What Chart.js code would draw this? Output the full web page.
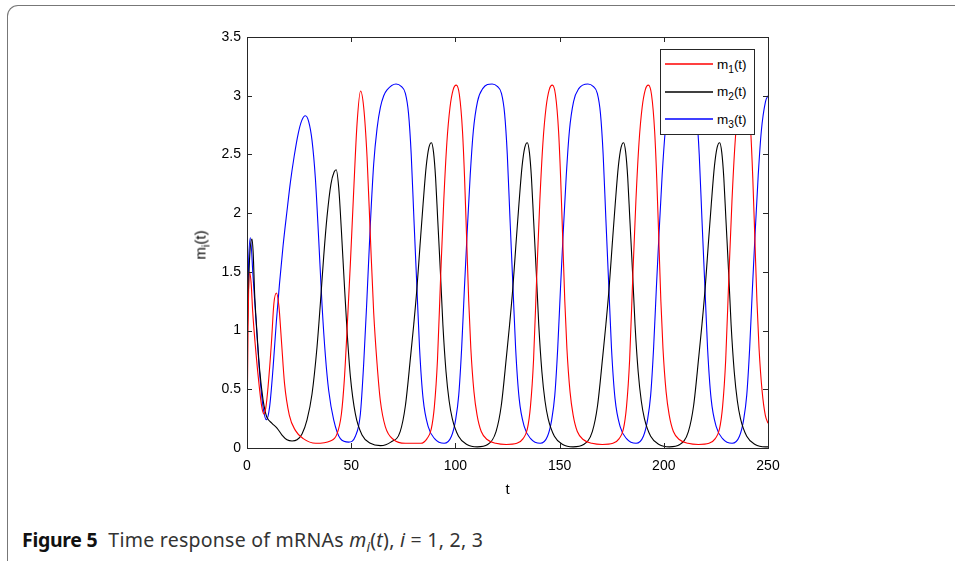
<!DOCTYPE html>
<html>
<head>
<meta charset="utf-8">
<title>Figure 5</title>
<script src="https://cdn.jsdelivr.net/npm/chart.js@4.4.1/dist/chart.umd.min.js"></script>
<style>
  html, body { margin: 0; padding: 0; background: #fff; }
  body { width: 955px; height: 561px; position: relative; overflow: hidden; }
  .frame {
    position: absolute; left: 7px; top: 5px; width: 1000px; height: 566px;
    border: 1.5px solid #777; border-right: none;
    border-radius: 11px 0 0 11px; box-sizing: border-box;
  }
  #chartBox { position: absolute; left: 0; top: 0; width: 955px; height: 510px; }
  .ylabel {
    position: absolute; font: 15px "Liberation Sans", Arial, sans-serif; color: #000;
    transform: translate(-50%, -50%) rotate(-90deg); white-space: nowrap;
  }
  .ylabel sub, .legend sub { font-size: 75%; vertical-align: -0.35em; line-height: 0; }
  .legend {
    position: absolute; width: 95px; height: 86px; box-sizing: border-box;
    border: 1px solid #262626; background: #fff;
    font: 13.5px "Liberation Sans", Arial, sans-serif; color: #000;
  }
  .legend .row { position: absolute; left: 4px; height: 16px; display: flex; align-items: center; }
  .legend .swatch { width: 48px; height: 4px; margin-right: 4px; position: relative; }
  .legend .swatch svg { position: absolute; left: 0; top: 0; }
  .caption {
    position: absolute; left: 22px; top: 526px; font: 19.5px "Noto Sans", sans-serif; color: #333;
    white-space: nowrap; letter-spacing: -0.3px;
  }
  .caption b { font-weight: 700; margin-right: 11px; color: #111; }
  .caption .txt { letter-spacing: 0.25px; }
  .caption i sub { font-size: 70%; }
</style>
</head>
<body>
<div class="frame"></div>
<div id="chartBox"><canvas id="respChart"></canvas></div>
<div class="ylabel" id="yTitle">m<sub>i</sub>(t)</div>
<div class="legend" id="legendBox"></div>
<div class="caption"><b>Figure 5</b><span class="txt">Time response of mRNAs <i>m<sub>i</sub></i>(<i>t</i>), <i>i</i> = 1, 2, 3</span></div>

<script>
// axis ticks
const xTicks = [0, 50, 100, 150, 200, 250];
const yTicks = [0, 0.5, 1, 1.5, 2, 2.5, 3, 3.5];

// series names (legend: m_k(t))
const seriesSubs = ['1', '2', '3'];
const seriesColors = ['#ff0000', '#000000', '#0000ff'];

// m1(t) - red
const m1Time = [
  0, 0.5, 1.2, 2.0, 2.7, 4.3, 5.9, 7.0, 8.0, 9.0, 10.1, 11.7, 12.9, 14.1, 15.3, 16.5, 18.0, 20.3, 23.2, 27.0,
  33.0, 40.0, 43.2, 45.3, 46.7, 48.0, 49.6, 51.2, 52.8, 54.5, 56.0, 57.6, 59.2, 60.8, 62.4, 64.0, 66.4, 70.4, 76.0,
  83.4, 86.4, 88.4, 89.9, 91.4, 92.9, 94.4, 95.9, 97.4, 98.9, 100.4, 101.9, 103.4, 104.4, 105.4, 106.4, 107.4, 108.9, 110.4, 112.4, 115.4, 119.4, 124.4,
  129.5, 132.5, 134.5, 136.0, 137.5, 139.0, 140.5, 142.0, 143.5, 145.0, 146.5, 148.0, 149.5, 150.5, 151.5, 152.5, 153.5, 155.0, 156.5, 158.5, 161.5, 165.5, 170.5,
  175.6, 178.6, 180.6, 182.1, 183.6, 185.1, 186.6, 188.1, 189.6, 191.1, 192.6, 194.1, 195.6, 196.6, 197.6, 198.6, 199.6, 201.1, 202.6, 204.6, 207.6, 211.6, 216.6,
  221.7, 224.7, 226.7, 228.2, 229.7, 231.2, 232.7, 234.2, 235.7, 237.2, 238.7, 240.2, 241.7, 242.7, 243.7, 244.7, 245.7, 247.2, 248.7, 250
];
const m1Vals = [
  0.10, 1.00, 1.50, 1.40, 1.17, 0.81, 0.52, 0.36, 0.29, 0.34, 0.52, 0.89, 1.23, 1.32, 1.21, 0.92, 0.55, 0.28, 0.15, 0.08,
  0.04, 0.06, 0.12, 0.29, 0.58, 1.00, 1.57, 2.19, 2.76, 3.04, 2.90, 2.48, 1.80, 1.15, 0.72, 0.40, 0.18, 0.07, 0.04,
  0.04, 0.08, 0.16, 0.35, 0.75, 1.45, 2.10, 2.60, 2.90, 3.05, 3.09, 3.01, 2.70, 2.30, 1.78, 1.25, 0.85, 0.48, 0.28, 0.14, 0.07, 0.04, 0.03,
  0.04, 0.08, 0.16, 0.35, 0.75, 1.45, 2.10, 2.60, 2.90, 3.05, 3.09, 3.01, 2.70, 2.30, 1.78, 1.25, 0.85, 0.48, 0.28, 0.14, 0.07, 0.04, 0.03,
  0.04, 0.08, 0.16, 0.35, 0.75, 1.45, 2.10, 2.60, 2.90, 3.05, 3.09, 3.01, 2.70, 2.30, 1.78, 1.25, 0.85, 0.48, 0.28, 0.14, 0.07, 0.04, 0.03,
  0.04, 0.08, 0.16, 0.35, 0.75, 1.45, 2.10, 2.60, 2.90, 3.05, 3.09, 3.01, 2.70, 2.30, 1.78, 1.25, 0.85, 0.48, 0.28, 0.21
];

// m2(t) - black
const m2Time = [
  0, 1.2, 2.4, 3.0, 3.65, 4.8, 6.05, 7.7, 8.9, 9.6, 12.0, 14.4, 16.8, 19.2, 21.6, 24.0, 26.4, 28.8, 31.2, 33.6,
  35.2, 36.8, 38.4, 40.3, 41.8, 42.8, 44.0, 45.3, 46.6, 48.0, 49.6, 52.0, 55.2, 59.2, 64.0, 69.0,
  73.5, 76.0, 78.5, 80.0, 81.5, 83.0, 84.5, 86.0, 87.3, 88.5, 89.5, 90.5, 91.5, 92.8, 94.0, 95.5, 97.0, 98.5, 101.5, 105.5, 110.5, 115.5,
  119.5, 122.0, 124.5, 126.0, 127.5, 129.0, 130.5, 132.0, 133.3, 134.5, 135.5, 136.5, 137.5, 138.8, 140.0, 141.5, 143.0, 144.5, 147.5, 151.5, 156.5, 161.5,
  165.7, 168.2, 170.7, 172.2, 173.7, 175.2, 176.7, 178.2, 179.5, 180.7, 181.7, 182.7, 183.7, 185.0, 186.2, 187.7, 189.2, 190.7, 193.7, 197.7, 202.7, 207.7,
  211.8, 214.3, 216.8, 218.3, 219.8, 221.3, 222.8, 224.3, 225.6, 226.8, 227.8, 228.8, 229.8, 231.1, 232.3, 233.8, 235.3, 236.8, 239.8, 243.8, 248.8, 250
];
const m2Vals = [
  0.90, 1.60, 1.78, 1.65, 1.32, 0.98, 0.67, 0.41, 0.30, 0.26, 0.21, 0.17, 0.11, 0.07, 0.06, 0.07, 0.12, 0.24, 0.46, 0.86,
  1.23, 1.63, 1.97, 2.25, 2.35, 2.37, 2.22, 1.85, 1.43, 1.00, 0.61, 0.29, 0.11, 0.04, 0.02, 0.05,
  0.14, 0.36, 0.78, 1.05, 1.35, 1.72, 2.08, 2.40, 2.56, 2.60, 2.52, 2.30, 1.95, 1.50, 1.05, 0.65, 0.40, 0.25, 0.10, 0.03, 0.01, 0.03,
  0.14, 0.36, 0.78, 1.05, 1.35, 1.72, 2.08, 2.40, 2.56, 2.60, 2.52, 2.30, 1.95, 1.50, 1.05, 0.65, 0.40, 0.25, 0.10, 0.03, 0.01, 0.03,
  0.14, 0.36, 0.78, 1.05, 1.35, 1.72, 2.08, 2.40, 2.56, 2.60, 2.52, 2.30, 1.95, 1.50, 1.05, 0.65, 0.40, 0.25, 0.10, 0.03, 0.01, 0.03,
  0.14, 0.36, 0.78, 1.05, 1.35, 1.72, 2.08, 2.40, 2.56, 2.60, 2.52, 2.30, 1.95, 1.50, 1.05, 0.65, 0.40, 0.25, 0.10, 0.03, 0.01, 0.01
];

// m3(t) - blue
const m3Time = [
  0, 0.8, 1.6, 2.9, 4.5, 6.05, 7.7, 9.3, 10.85, 12.5, 14.1, 15.6, 17.3, 19.2, 20.8, 22.6, 24.6, 26.3, 28.0, 29.6,
  31.2, 32.8, 34.4, 36.0, 37.6, 39.2, 41.6, 44.8, 48.8, 52.0, 54.4, 56.0, 57.6, 59.2, 60.8, 62.4, 64.0, 65.6, 67.2,
  71.5, 74.0, 76.0, 77.5, 78.8, 80.1, 81.5, 82.8, 84.5, 87.0, 90.0, 94.6, 98.1, 100.1, 101.6, 103.0, 104.3, 105.6, 107.1, 108.6, 110.6, 113.1,
  117.6, 120.1, 122.1, 123.6, 124.9, 126.2, 127.6, 128.9, 130.6, 133.1, 136.1, 140.7, 144.2, 146.2, 147.7, 149.1, 150.4, 151.7, 153.2, 154.7, 156.7, 159.2,
  163.6, 166.1, 168.1, 169.6, 170.9, 172.2, 173.6, 174.9, 176.6, 179.1, 182.1, 186.7, 190.2, 192.2, 193.7, 195.1, 196.4, 197.7, 199.2, 200.7, 202.7, 205.2,
  209.7, 212.2, 214.2, 215.7, 217.0, 218.3, 219.7, 221.0, 222.7, 225.2, 228.2, 232.8, 236.3, 238.3, 239.8, 241.2, 242.5, 243.8, 245.3, 246.8, 248.8, 250
];
const m3Vals = [
  1.00, 1.60, 1.79, 1.46, 1.04, 0.64, 0.35, 0.24, 0.35, 0.68, 1.08, 1.40, 1.72, 2.02, 2.26, 2.48, 2.68, 2.79, 2.83, 2.78,
  2.62, 2.30, 1.78, 1.22, 0.79, 0.49, 0.24, 0.08, 0.05, 0.10, 0.29, 0.72, 1.29, 1.91, 2.42, 2.72, 2.90, 3.00, 3.05,
  3.10, 3.08, 3.02, 2.85, 2.50, 1.95, 1.38, 0.85, 0.42, 0.18, 0.08, 0.04, 0.10, 0.24, 0.45, 0.85, 1.35, 1.82, 2.32, 2.70, 2.95, 3.06,
  3.10, 3.08, 3.02, 2.85, 2.50, 1.95, 1.38, 0.85, 0.42, 0.18, 0.08, 0.04, 0.10, 0.24, 0.45, 0.85, 1.35, 1.82, 2.32, 2.70, 2.95, 3.06,
  3.10, 3.08, 3.02, 2.85, 2.50, 1.95, 1.38, 0.85, 0.42, 0.18, 0.08, 0.04, 0.10, 0.24, 0.45, 0.85, 1.35, 1.82, 2.32, 2.70, 2.95, 3.06,
  3.10, 3.08, 3.02, 2.85, 2.50, 1.95, 1.38, 0.85, 0.42, 0.18, 0.08, 0.04, 0.10, 0.24, 0.45, 0.85, 1.35, 1.82, 2.32, 2.70, 2.95, 3.00
];

const seriesTimes = [m1Time, m2Time, m3Time];
const seriesVals = [m1Vals, m2Vals, m3Vals];

function toPoints(ts, vs) {
  return ts.map((t, i) => ({ x: t, y: vs[i] }));
}

// MATLAB-style box with inward ticks on all four sides, and place the html labels
const boxTicks = {
  id: 'boxTicks',
  afterDraw(chart) {
    const { ctx, chartArea: a, scales: { x, y } } = chart;
    const tl = 5;
    ctx.save();
    ctx.strokeStyle = '#262626';
    ctx.lineWidth = 1;
    ctx.beginPath();
    x.ticks.forEach(tk => {
      const px = Math.round(x.getPixelForValue(tk.value)) + 0.5;
      ctx.moveTo(px, a.bottom); ctx.lineTo(px, a.bottom - tl);
      ctx.moveTo(px, a.top); ctx.lineTo(px, a.top + tl);
    });
    y.ticks.forEach(tk => {
      const py = Math.round(y.getPixelForValue(tk.value)) + 0.5;
      ctx.moveTo(a.left, py); ctx.lineTo(a.left + tl, py);
      ctx.moveTo(a.right, py); ctx.lineTo(a.right - tl, py);
    });
    ctx.stroke();
    ctx.strokeRect(Math.round(a.left) + 0.5, Math.round(a.top) + 0.5, Math.round(a.right - a.left), Math.round(a.bottom - a.top));
    ctx.restore();

    const yTitle = document.getElementById('yTitle');
    yTitle.style.left = (a.left - 47) + 'px';
    yTitle.style.top = ((a.top + a.bottom) / 2 + 2) + 'px';
    const lg = document.getElementById('legendBox');
    lg.style.left = (a.right - 108) + 'px';
    lg.style.top = (a.top + 12) + 'px';
  }
};

// html legend with subscripts
const legendBox = document.getElementById('legendBox');
seriesSubs.forEach((s, i) => {
  const row = document.createElement('div');
  row.className = 'row';
  row.style.top = (6 + i * 27.5) + 'px';
  row.innerHTML = `<span class="swatch"><svg width="48" height="4"><line x1="0" y1="2" x2="48" y2="2" stroke="${seriesColors[i]}" stroke-width="1.3"/></svg></span><span>m<sub>${s}</sub>(t)</span>`;
  legendBox.appendChild(row);
});

const tickFont = { family: '"Liberation Sans", Arial, sans-serif', size: 14 };

new Chart(document.getElementById('respChart'), {
  type: 'line',
  data: {
    datasets: seriesSubs.map((s, i) => ({
      label: 'm' + s + '(t)',
      data: toPoints(seriesTimes[i], seriesVals[i]),
      borderColor: seriesColors[i],
      borderWidth: 1.1,
      pointRadius: 0,
      fill: false,
      cubicInterpolationMode: 'monotone'
    }))
  },
  options: {
    responsive: true,
    maintainAspectRatio: false,
    animation: false,
    layout: { padding: { left: 197, right: 187, top: 37, bottom: 11 } },
    plugins: { legend: { display: false }, tooltip: { enabled: false } },
    scales: {
      x: {
        type: 'linear', min: 0, max: 250,
        afterBuildTicks: sc => { sc.ticks = xTicks.map(v => ({ value: v })); },
        afterFit: sc => { sc.height = 51; },
        grid: { display: false, drawTicks: false },
        border: { display: false },
        ticks: { color: '#000', font: tickFont, padding: 10, maxRotation: 0, callback: v => String(v) },
        title: { display: true, text: 't', color: '#000', font: { family: tickFont.family, size: 15 }, padding: { top: 0, bottom: 0 } }
      },
      y: {
        type: 'linear', min: 0, max: 3.5,
        afterBuildTicks: sc => { sc.ticks = yTicks.map(v => ({ value: v })); },
        afterFit: sc => { sc.width = 50; },
        grid: { display: false, drawTicks: false },
        border: { display: false },
        ticks: { color: '#000', font: tickFont, padding: 6, callback: v => String(v) }
      }
    }
  },
  plugins: [boxTicks]
});
</script>
</body>
</html>
